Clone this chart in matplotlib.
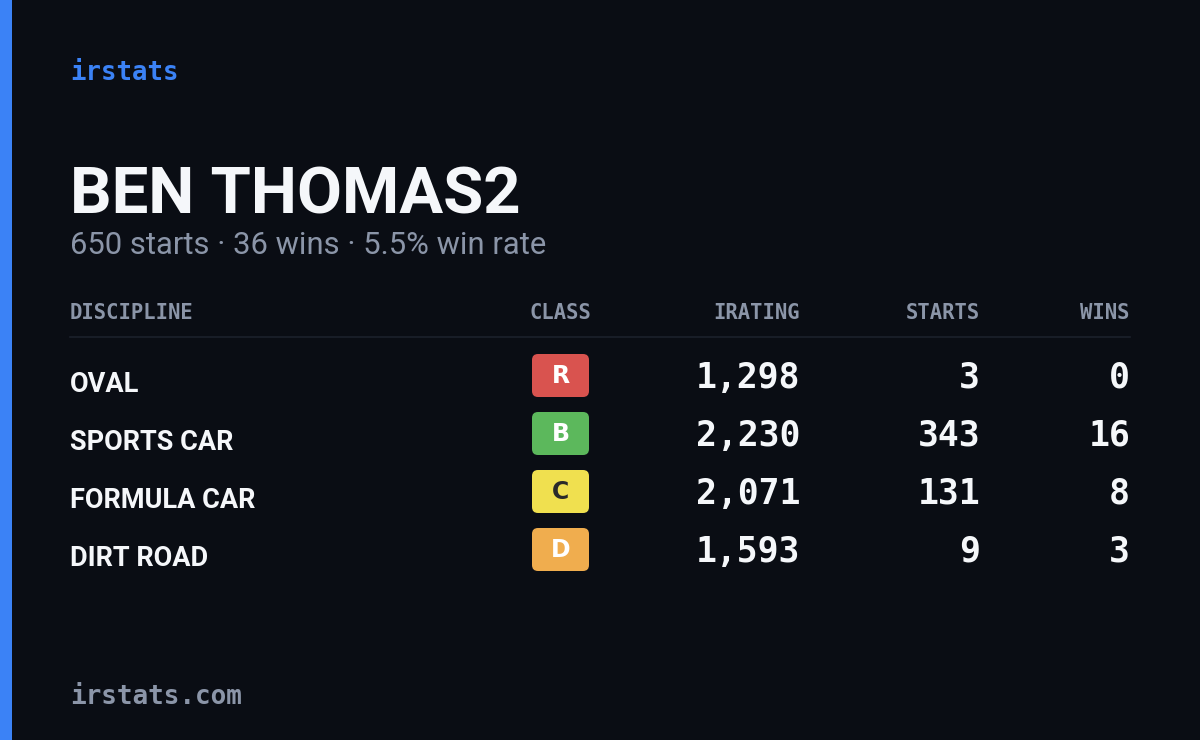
import matplotlib
matplotlib.use("Agg")
import matplotlib.pyplot as plt
from matplotlib.patches import FancyBboxPatch, Rectangle

brand = "irstats"
name = "BEN THOMAS2"
subtitle = "650 starts · 36 wins · 5.5% win rate"
headers = ["DISCIPLINE", "CLASS", "IRATING", "STARTS", "WINS"]
disciplines = ["OVAL", "SPORTS CAR", "FORMULA CAR", "DIRT ROAD"]
classes = ["R", "B", "C", "D"]
iratings = [1298, 2230, 2071, 1593]
starts = [3, 343, 131, 9]
wins = [0, 16, 8, 3]
footer = "irstats.com"

class_colors = {"R": "#d9534f", "B": "#5cb85c", "C": "#f0e04f", "D": "#f0ad4e"}
class_text = {"R": "white", "B": "white", "C": "#2a2a2a", "D": "white"}

BG = "#0a0d14"; BLUE = "#3b82f6"; GRAY = "#8b95a8"; WHITE = "#f5f7fa"
MONO = ["DejaVu Sans Mono"]
COND = ["Roboto", "DejaVu Sans"]

fig = plt.figure(figsize=(12, 7.4), dpi=100, facecolor=BG)
ax = fig.add_axes([0, 0, 1, 1])
ax.set_xlim(0, 1200); ax.set_ylim(740, 0); ax.axis("off")
ax.set_facecolor(BG)
ax.add_patch(Rectangle((0, 0), 12, 740, color=BLUE, lw=0))

ax.text(70, 73, brand, color=BLUE, family=MONO, fontweight="bold", fontsize=18.5, va="center", ha="left")
ax.text(70, 213, name, color=WHITE, family=COND, fontweight="bold", fontsize=47, va="baseline", ha="left")
ax.text(70, 245, subtitle, color=GRAY, family=["Roboto", "DejaVu Sans"], fontsize=22.3, va="center", ha="left")

hx = [70, 560, 800, 980, 1130]
ha = ["left", "center", "right", "right", "right"]
for h, x, a in zip(headers, hx, ha):
    ax.text(x, 313, h, color=GRAY, family=MONO, fontweight="bold", fontsize=14.8, va="center", ha=a)
ax.plot([70, 1130], [337, 337], color="#1c212c", lw=1.2)

for i, (d, c, ir, s, w) in enumerate(zip(disciplines, classes, iratings, starts, wins)):
    yc = 376 + 58 * i
    ax.text(70, yc + 9, d, color=WHITE, family=COND, fontweight="bold", fontsize=19.5, va="center", ha="left")
    ax.add_patch(FancyBboxPatch((532, yc - 22), 57, 43, boxstyle="round,pad=0,rounding_size=6",
                                facecolor=class_colors[c], edgecolor="none"))
    ax.text(560.5, yc, c, color=class_text[c], family=["DejaVu Sans"], fontweight="bold",
            fontsize=17, va="center", ha="center")
    for x, v in ((800, f"{ir:,}"), (980, f"{s}"), (1130, f"{w}")):
        ax.text(x, yc + 2, v, color=WHITE, family=MONO, fontweight="bold", fontsize=25, va="center", ha="right")

ax.text(70, 697, footer, color=GRAY, family=MONO, fontweight="bold", fontsize=18.7, va="center", ha="left")

fig.savefig("out.png", dpi=100, facecolor=BG)
